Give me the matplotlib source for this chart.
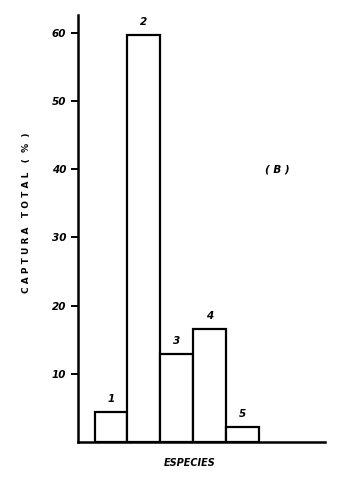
import matplotlib
matplotlib.use('Agg')
import matplotlib.pyplot as plt

especies = ['1', '2', '3', '4', '5']
captura = [4.4, 59.6, 12.9, 16.5, 2.2]
yticks = [10, 20, 30, 40, 50, 60]

plt.rcParams['font.family'] = 'DejaVu Sans'

fig = plt.figure(figsize=(3.5, 4.8), dpi=100)
ax = fig.add_axes([0.223, 0.079, 0.706, 0.890])

pos = list(range(1, len(captura) + 1))
ax.bar(pos, captura, width=1.0, color='white', edgecolor='black', linewidth=1.6)
for p, v, lab in zip(pos, captura, especies):
    ax.text(p, v + 1.2, lab, ha='center', va='bottom', fontsize=7.5,
            fontweight='bold', style='italic')

ax.text(6.06, 39.9, '( B )', ha='center', va='center', fontsize=7.5,
        fontweight='bold', style='italic')

ax.set_xlim(0, 7.5)
ax.set_ylim(0, 62.6)
ax.set_yticks(yticks)
ax.set_yticklabels([str(t) for t in yticks], fontsize=7.5, style='italic',
                   fontweight='bold')
ax.set_xticks([])
ax.tick_params(axis='y', direction='out', length=5, width=1.4)
for s in ['top', 'right']:
    ax.spines[s].set_visible(False)
for s in ['left', 'bottom']:
    ax.spines[s].set_linewidth(1.8)

ax.set_xlabel('ESPECIES', fontsize=7, style='italic', fontweight='bold')
ax.xaxis.set_label_coords(0.453, -0.038)
ax.set_ylabel('C A P T U R A   T O T A L   (  %  )', fontsize=6.5,
              fontweight='bold')
ax.yaxis.set_label_coords(-0.19, 0.536)

fig.savefig('out.png', dpi=100)
